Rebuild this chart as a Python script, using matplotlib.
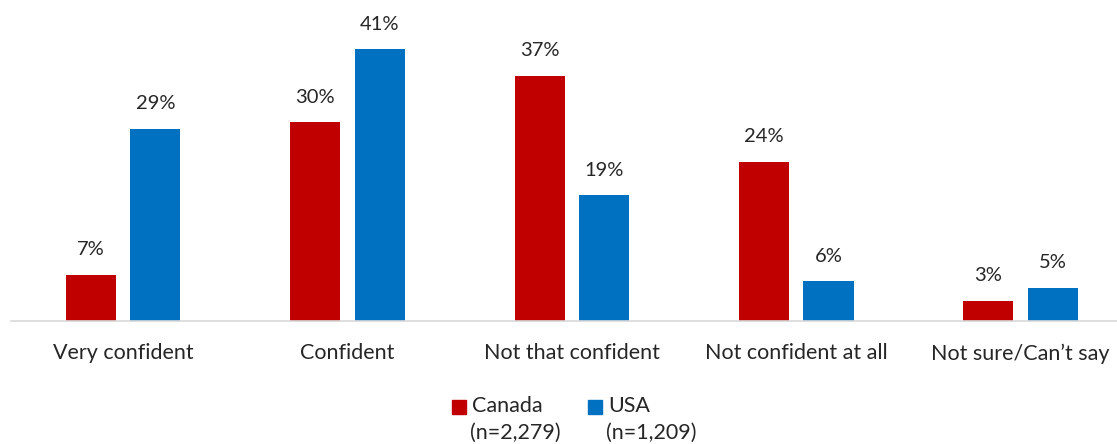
import matplotlib
matplotlib.use("Agg")
import matplotlib.pyplot as plt
from matplotlib.patches import Rectangle
import numpy as np

plt.rcParams['font.family'] = ['Lato', 'DejaVu Sans']

categories = ["Very confident", "Confident", "Not that confident",
              "Not confident at all", "Not sure/Can\u2019t say"]
canada = [7, 30, 37, 24, 3]
usa = [29, 41, 19, 6, 5]
series_names = ["Canada", "USA"]
series_n = ["(n=2,279)", "(n=1,209)"]
colors = ["#C00000", "#0070C0"]

W, H = 1117, 444
fig = plt.figure(figsize=(W / 100, H / 100), dpi=100)
ax = fig.add_axes([11 / W, (H - 321) / H, (W - 11) / W, (321 - 23) / H])

x = np.arange(len(categories))
bw = 0.223
off = 0.144
for vals, dx, c in [(canada, -off, colors[0]), (usa, off, colors[1])]:
    bars = ax.bar(x + dx, vals, width=bw, color=c, zorder=2)
    for b, v in zip(bars, vals):
        ax.annotate(f"{v}%", (b.get_x() + b.get_width() / 2, v),
                    xytext=(0, 12), textcoords="offset points",
                    ha="center", va="bottom", fontsize=14.5, color="#262626")

ax.set_xlim(-0.5, 4.43)
ax.set_ylim(0, 45)
for s in ["top", "right", "left"]:
    ax.spines[s].set_visible(False)
ax.spines["bottom"].set_color("#D9D9D9")
ax.spines["bottom"].set_linewidth(1.2)
ax.set_yticks([])
ax.set_xticks(x)
ax.set_xticklabels(categories, fontsize=15.5, color="#262626")
ax.tick_params(axis="x", length=0, pad=16)

# legend
leg_x = [452, 588]
for lx, c, name, n in zip(leg_x, colors, series_names, series_n):
    fig.patches.append(Rectangle((lx / W, (H - 414) / H), 14 / W, 14 / H,
                                 transform=fig.transFigure, color=c))
    fig.text((lx + 20) / W, (H - 406) / H, name, fontsize=15.5,
             va="center", ha="left", color="#262626")
    fig.text((lx + 18) / W, (H - 433) / H, n, fontsize=15.5,
             va="center", ha="left", color="#262626")

fig.savefig("out.png", dpi=100)
